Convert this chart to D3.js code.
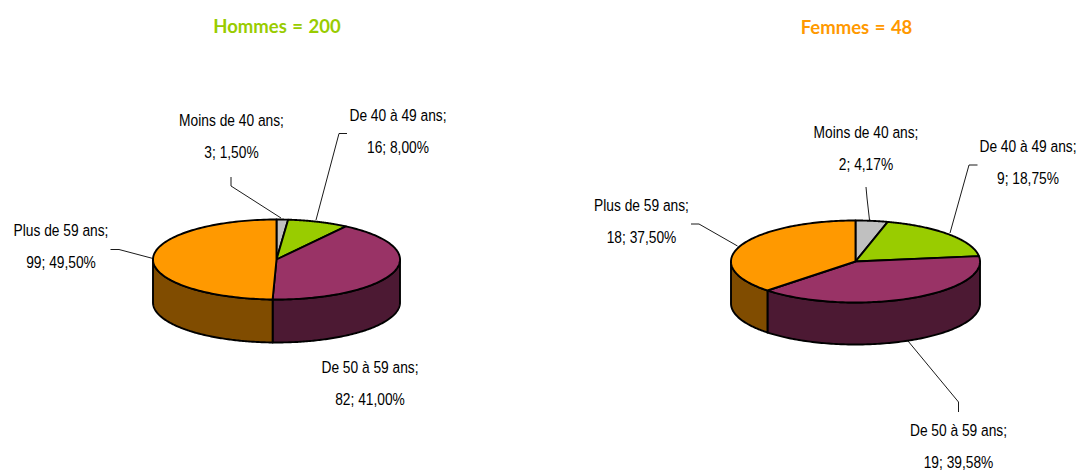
<!DOCTYPE html>
<html><head><meta charset="utf-8">
<script src="https://cdn.jsdelivr.net/npm/d3@7/dist/d3.min.js"></script>
<style>html,body{margin:0;padding:0;background:#fff;overflow:hidden}svg{display:block}</style>
</head><body><svg id="c" width="1078" height="470"></svg>
<script>
const categories = ["Moins de 40 ans","De 40 à 49 ans","De 50 à 59 ans","Plus de 59 ans"];
const hommesValues = [3,16,82,99];
const hommesPct = ["1,50%","8,00%","41,00%","49,50%"];
const femmesValues = [2,9,19,18];
const femmesPct = ["4,17%","18,75%","39,58%","37,50%"];
const topColors = ["#c0c0c0","#99cc00","#993366","#ff9900"];
const sideColors = ["#606060","#4c6600","#4c1933","#804c00"];

const svg = d3.select("#c");
const F = "'Liberation Sans',Arial,sans-serif";

function drawPie(o){
  const g = svg.append("g");
  const pie = d3.pie().sort(null).value(d=>d)(o.values);
  const sx = d3.scaleLinear().domain([-1,1]).range([o.cx-o.rx,o.cx+o.rx]);
  const sy = d3.scaleLinear().domain([-1,1]).range([o.cy-o.ry,o.cy+o.ry]);
  const line = d3.line().curve(d3.curveLinear);
  const N = 120;
  const pt = (a,dy=0)=>[sx(Math.sin(a)),sy(-Math.cos(a))+dy];
  const front=[Math.PI/2,3*Math.PI/2];
  pie.forEach((p,i)=>{
    const a0=Math.max(p.startAngle,front[0]),a1=Math.min(p.endAngle,front[1]);
    if(a1<=a0) return;
    const arc=d3.range(N+1).map(k=>a0+(a1-a0)*k/N);
    const pts=arc.map(a=>pt(a)).concat(arc.slice().reverse().map(a=>pt(a,o.depth)));
    g.append("path").attr("d",line(pts)+"Z").attr("fill",sideColors[i])
      .attr("stroke","#000").attr("stroke-width",1.9).attr("stroke-linejoin","round");
  });
  pie.forEach((p,i)=>{
    const arc=d3.range(N+1).map(k=>p.startAngle+(p.endAngle-p.startAngle)*k/N);
    const pts=[[sx(0),sy(0)]].concat(arc.map(a=>pt(a)));
    g.append("path").attr("d",line(pts)+"Z").attr("fill",topColors[i])
      .attr("stroke","#000").attr("stroke-width",1.9).attr("stroke-linejoin","round");
  });
  o.leaders.forEach(l=>{
    g.append("path").attr("d",line(l)).attr("fill","none").attr("stroke","#000").attr("stroke-width",0.9);
  });
  categories.forEach((c,i)=>{
    const [x,y]=o.labels[i];
    [[c+";",y],[o.values[i]+"; "+o.pct[i],y+32]].forEach(([s,yy])=>{
      g.append("text").attr("transform",`translate(${x},${yy}) scale(0.81,1)`)
        .attr("font-family",F).attr("font-size",17).attr("fill","#000")
        .attr("text-anchor","middle").text(s);
    });
  });
  g.append("text").attr("x",o.tx).attr("y",o.ty).attr("text-anchor","middle")
    .attr("font-family","'Lato','Noto Sans',sans-serif").attr("font-weight","700").attr("font-size",18.5)
    .attr("word-spacing",1).attr("fill",o.tc).text(o.title);
}
drawPie({values:hommesValues,pct:hommesPct,cx:276.5,cy:259.5,rx:123.5,ry:40,depth:43,
  labels:[[231.5,126],[398,120.5],[370,373],[61,236]],
  leaders:[[[231,177],[231,186],[281,218]],[[347,133.5],[339,133.5],[316,220]],[[110.5,249.5],[119,249.5],[153,258.5]]],
  tx:277,ty:33,tc:"#99cc00",title:"Hommes = 200"});
drawPie({values:femmesValues,pct:femmesPct,cx:855.5,cy:261.5,rx:124.5,ry:41,depth:42,
  labels:[[866,137.5],[1028,152],[958.5,436],[641.5,211]],
  leaders:[[[866,187],[867,198],[869.5,220]],[[977.5,165],[969,165],[950,233]],[[908,341],[958.5,402],[958.5,412]],[[691,224],[699,224],[737.5,246]]],
  tx:856.5,ty:34,tc:"#ff9900",title:"Femmes = 48"});
</script></body></html>
